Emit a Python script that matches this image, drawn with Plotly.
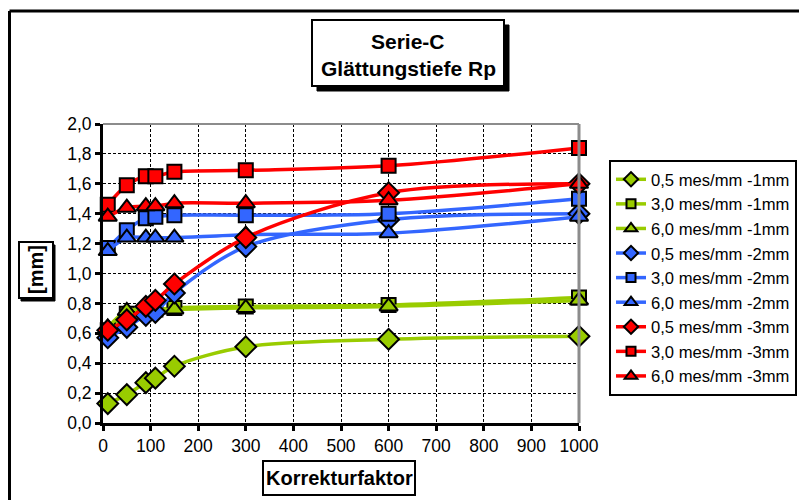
import plotly.graph_objects as go

# ---- data ----
korrektur = [10, 50, 90, 110, 150, 300, 600, 1000]

names = [
    "0,5 mes/mm -1mm", "3,0 mes/mm -1mm", "6,0 mes/mm -1mm",
    "0,5 mes/mm -2mm", "3,0 mes/mm -2mm", "6,0 mes/mm -2mm",
    "0,5 mes/mm -3mm", "3,0 mes/mm -3mm", "6,0 mes/mm -3mm",
]
g_05 = [0.13, 0.19, 0.27, 0.30, 0.38, 0.51, 0.56, 0.58]
g_30 = [0.62, 0.73, 0.75, 0.76, 0.77, 0.78, 0.79, 0.84]
g_60 = [0.64, 0.75, 0.76, 0.76, 0.76, 0.77, 0.78, 0.82]
b_05 = [0.57, 0.64, 0.72, 0.74, 0.87, 1.18, 1.36, 1.40]
b_30 = [1.17, 1.29, 1.37, 1.38, 1.39, 1.39, 1.40, 1.50]
b_60 = [1.15, 1.24, 1.24, 1.24, 1.24, 1.26, 1.27, 1.38]
r_05 = [0.62, 0.69, 0.78, 0.82, 0.93, 1.24, 1.54, 1.60]
r_30 = [1.46, 1.59, 1.65, 1.65, 1.68, 1.69, 1.72, 1.84]
r_60 = [1.38, 1.44, 1.45, 1.45, 1.47, 1.47, 1.49, 1.60]
series = [g_05, g_30, g_60, b_05, b_30, b_60, r_05, r_30, r_60]

x_ticks = list(range(0, 1001, 100))
y_ticks = [i / 10 for i in range(0, 21, 2)]
y_tick_text = [("%.1f" % v).replace(".", ",") for v in y_ticks]

# ---- styles ----
GREEN, BLUE, RED = "#99CC00", "#3366FF", "#FF0000"
colors = [GREEN] * 3 + [BLUE] * 3 + [RED] * 3
symbols = ["diamond", "square", "triangle-up"] * 3
sizes = [16, 14, 16] * 3
leg_sizes = [11, 9, 11] * 3
FONT = "Liberation Sans, Arial, sans-serif"

# plot area in pixels
L, R, T, B = 103, 579, 124, 423
W, H = 799, 500


def px(x):
    return (x - L) / (R - L)


def py(y):
    return (B - y) / (B - T)


fig = go.Figure()
for name, ys, c, s, sz in zip(names, series, colors, symbols, sizes):
    fig.add_trace(go.Scatter(
        x=korrektur, y=ys, name=name, mode="lines+markers", showlegend=False,
        line=dict(color=c, width=3.5, shape="spline", smoothing=0.9),
        marker=dict(symbol=s, size=sz, color=c, line=dict(color="black", width=2)),
        cliponaxis=False,
    ))
# legend entries (smaller symbols as in the original legend)
for name, c, s, sz in zip(names, colors, symbols, leg_sizes):
    fig.add_trace(go.Scatter(
        x=[None], y=[None], name=name, mode="lines+markers", showlegend=True,
        line=dict(color=c, width=3.5),
        marker=dict(symbol=s, size=sz, color=c, line=dict(color="black", width=2)),
    ))

shapes = []


def line(x0, y0, x1, y1, color="black", width=2):
    shapes.append(dict(type="line", xref="paper", yref="paper",
                       x0=px(x0), y0=py(y0), x1=px(x1), y1=py(y1),
                       line=dict(color=color, width=width)))


def rect(x0, y0, x1, y1, fill="white", lc="black", lw=2):
    shapes.append(dict(type="rect", xref="paper", yref="paper",
                       x0=px(x0), y0=py(y0), x1=px(x1), y1=py(y1),
                       fillcolor=fill, line=dict(color=lc, width=lw)))


# outer chart border (left + top)
line(9.5, 11, 805, 11, "black", 3)
line(9.5, 11, 9.5, 505, "black", 3)
# plot area top/right border (gray)
line(L, T, R, T, "#8c8c8c", 2)
line(R, T, R, B, "#8c8c8c", 3)

# title box with shadow
rect(317, 25, 509, 91, "black", "black", 1)
rect(312, 20, 504, 86)
# y title box
rect(21, 245, 55, 301, "black", "black", 1)
rect(19, 242, 53, 298)
# x title box
rect(263, 461, 415, 495)


def ann(text, x, y, size, angle=0):
    return dict(text=text, x=px(x), y=py(y), xref="paper", yref="paper",
                xanchor="center", yanchor="middle", showarrow=False,
                textangle=angle, font=dict(family=FONT, size=size, color="black"))


annotations = [
    ann("<b>Serie-C</b>", 408, 42, 21),
    ann("<b>Glättungstiefe Rp</b>", 408, 69, 21),
    ann("<b>[mm]</b>", 36, 270, 20, -90),
    ann("<b>Korrekturfaktor</b>", 339, 478, 20),
]

fig.update_layout(
    width=W, height=H,
    margin=dict(l=L, r=W - R, t=T, b=H - B, autoexpand=False),
    paper_bgcolor="white", plot_bgcolor="white",
    font=dict(family=FONT, size=17, color="black"),
    shapes=shapes, annotations=annotations,
    showlegend=True,
    legend=dict(x=px(609), y=py(160), xanchor="left", yanchor="top",
                bgcolor="white", bordercolor="black", borderwidth=2,
                font=dict(family=FONT, size=16.6, color="black"),
                itemwidth=30, tracegroupgap=0),
    xaxis=dict(range=[0, 1000], tickvals=x_ticks, ticktext=[str(v) for v in x_ticks],
               showgrid=True, gridcolor="black", gridwidth=1, griddash="3px,2px",
               showline=True, linecolor="black", linewidth=3,
               ticks="outside", ticklen=5, tickwidth=3, tickcolor="black",
               tickfont=dict(size=17.5),
               zeroline=False, fixedrange=True),
    yaxis=dict(range=[0, 2], tickvals=y_ticks, ticktext=y_tick_text,
               showgrid=True, gridcolor="black", gridwidth=1, griddash="3px,2px",
               showline=True, linecolor="black", linewidth=3,
               ticks="outside", ticklen=5, tickwidth=3, tickcolor="black",
               tickfont=dict(size=17.5),
               zeroline=False, fixedrange=True),
)

fig.write_html("out.html", config={"displayModeBar": False},
               post_script="document.body.style.margin='0';document.body.style.overflow='hidden';")
